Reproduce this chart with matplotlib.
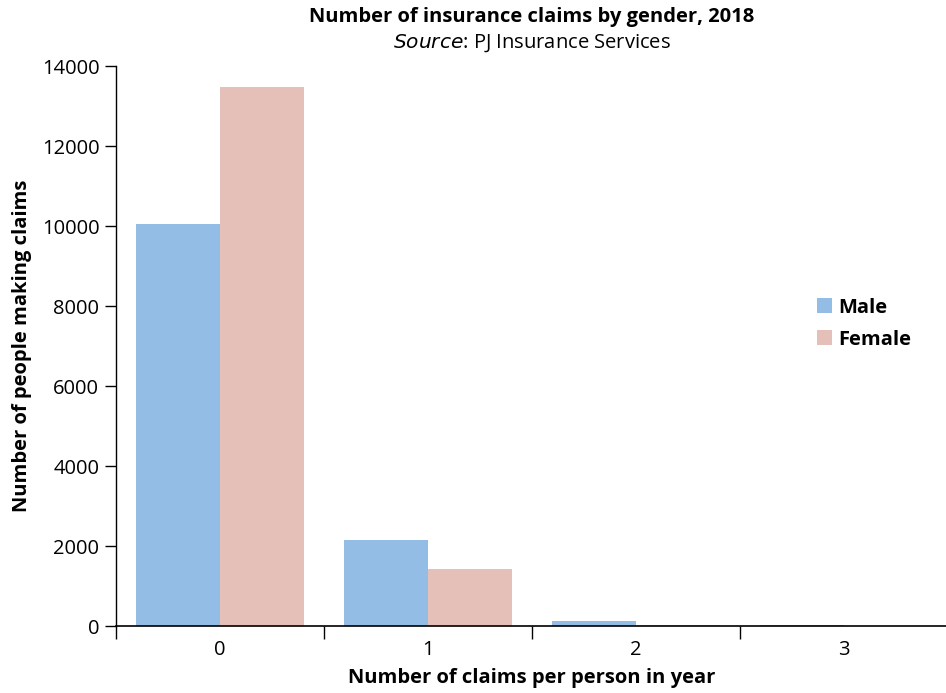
import matplotlib
matplotlib.use("Agg")
import matplotlib.pyplot as plt
import numpy as np
from matplotlib.ticker import FixedLocator

categories = ["0", "1", "2", "3"]
male = [10050, 2150, 125, 15]
female = [13475, 1425, 20, 10]
yticks = [0, 2000, 4000, 6000, 8000, 10000, 12000, 14000]

plt.rcParams['font.family'] = ['Open Sans', 'DejaVu Sans']

fig = plt.figure(figsize=(9.46, 6.93), dpi=100)
ax = fig.add_axes([116/946, 67/693, (948-116)/946, (626-66)/693])

x = np.arange(len(categories))
w = 0.404
ax.bar(x - w/2, male, width=w, color="#94BDE6", label="Male")
ax.bar(x + w/2, female, width=w, color="#E5C0B8", label="Female")

fs = 14.5
ax.set_xlim(-0.5, 3.5)
ax.set_ylim(0, 14000)
ax.set_yticks(yticks)
ax.set_yticklabels([str(v) for v in yticks], fontsize=fs)
ax.set_xticks(x)
ax.set_xticklabels(categories, fontsize=fs)
ax.xaxis.set_minor_locator(FixedLocator(np.arange(-0.5, 3.5, 1.0)))
ax.tick_params(axis='x', which='major', length=0, pad=10)
ax.tick_params(axis='x', which='minor', length=9, width=1, direction='out')
ax.tick_params(axis='y', length=8, width=1, direction='out', pad=4)

for s in ['top', 'right']:
    ax.spines[s].set_visible(False)
ax.spines['left'].set_linewidth(1)
ax.spines['bottom'].set_linewidth(1.2)

ax.set_xlabel("Number of claims per person in year", fontsize=fs, fontweight='bold', labelpad=6)
ax.set_ylabel("Number of people making claims", fontsize=fs, fontweight='bold', labelpad=7)

fig.text(532/946, 1 - 17/693, "Number of insurance claims by gender, 2018", ha='center', va='center',
         fontsize=fs, fontweight='bold')
fig.text(532/946, 1 - 43/693, r"$\it{Source}$: PJ Insurance Services", ha='center', va='center', fontsize=fs)

ax.legend(loc='center left', bbox_to_anchor=(0.843, 0.54), frameon=False,
          prop={'weight': 'bold', 'size': fs}, handlelength=0.75, handleheight=0.75, handletextpad=0.3,
          labelspacing=0.6, borderpad=0, borderaxespad=0)

fig.savefig("out.png", dpi=100)
